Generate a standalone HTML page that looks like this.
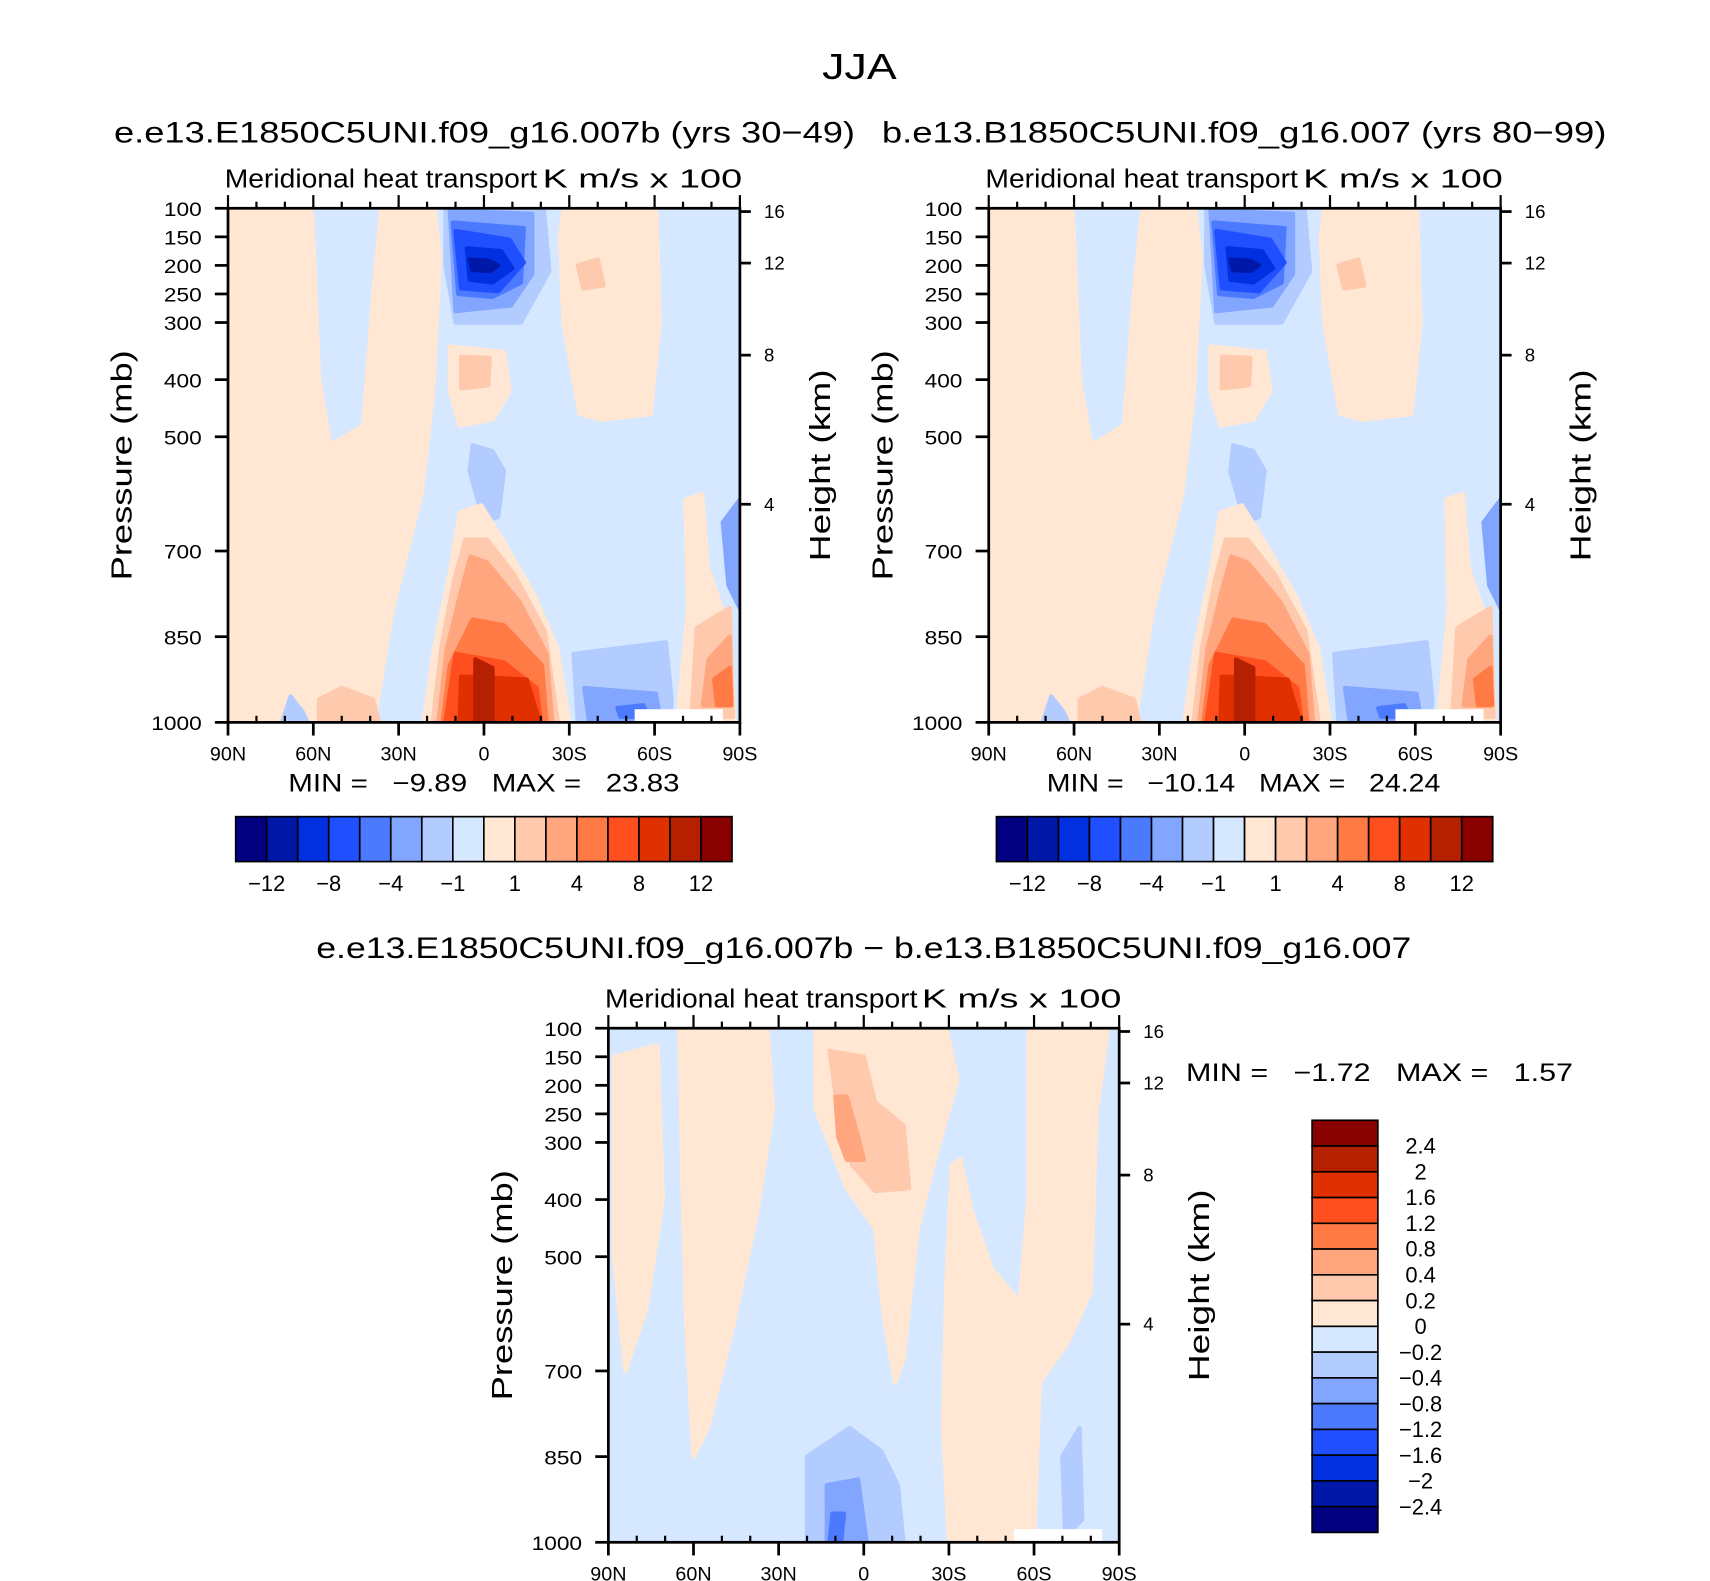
<!DOCTYPE html>
<html><head><meta charset="utf-8"><style>
html,body{margin:0;padding:0;background:#fff;}
svg{display:block;font-family:"Liberation Sans",sans-serif;}
text{white-space:pre;}
</style></head><body>
<svg id="fig" width="1710" height="1581" viewBox="0 0 1560 1442.3" xmlns="http://www.w3.org/2000/svg">
<text x="784" y="72" font-size="33" text-anchor="middle" textLength="68" lengthAdjust="spacingAndGlyphs">JJA</text>
<text x="442" y="130" font-size="27" text-anchor="middle" textLength="676" lengthAdjust="spacingAndGlyphs">e.e13.E1850C5UNI.f09_g16.007b (yrs 30−49)</text>
<text x="1135" y="130" font-size="27" text-anchor="middle" textLength="661" lengthAdjust="spacingAndGlyphs">b.e13.B1850C5UNI.f09_g16.007 (yrs 80−99)</text>
<text x="788" y="874" font-size="27" text-anchor="middle" textLength="999" lengthAdjust="spacingAndGlyphs">e.e13.E1850C5UNI.f09_g16.007b − b.e13.B1850C5UNI.f09_g16.007</text>
</svg>
<script>
// ---- data ----
const colors = ["#000080","#0018a8","#0030e0","#1f4fff","#4c7aff","#82a6ff","#b3ccff","#d6e8ff","#ffe7d4","#ffc9ad","#ffa67f","#ff7a45","#ff4f1f","#e03000","#b52000","#880000"];
const cbLabels1 = ["−12","−8","−4","−1","1","4","8","12"];
const cbLabelIdx1 = [1,3,5,7,9,11,13,15];
const cbLabels3 = ["2.4","2","1.6","1.2","0.8","0.4","0.2","0","−0.2","−0.4","−0.8","−1.2","−1.6","−2","−2.4"];
const pLevels = [100,150,200,250,300,400,500,700,850,1000];
const pLevelLabels = ["100","150","200","250","300","400","500","700","850","1000"];
const pLevelIdx = [0,1,2,3,4,6,8,12,15,18];
const latTicks = [90,60,30,0,-30,-60,-90];
const latLabels = ["90N","60N","30N","0","30S","60S","90S"];
const hTicks = [16,12,8,4];
const hPos = [193,240,324,460];
const minMax1 = ["−9.89","23.83"];
const minMax2 = ["−10.14","24.24"];
const minMax3 = ["−1.72","1.57"];
// field shapes: [colorIndex, [[lat,level] ...]]
const field12 = [
 [8,[[90,100],[60.6,100],[59.8,185],[58,400],[54,515],[42.4,480],[38.6,230],[36,100],[17.5,100],[15.5,185],[18,430],[22,600],[32.5,810],[38.5,1000],[90,1000]]],
 [9,[[58,960],[50,940],[39,960],[37,1000],[58,1000]]],
 [6,[[71,1000],[68,955],[64,980],[62,1000]]],
 [6,[[13.5,100],[-21,100],[-23,210],[-13,300],[10,300],[13.5,200]]],
 [5,[[12,104],[-17,110],[-17,215],[-9.5,270],[10,280]]],
 [4,[[11,125],[-14,135],[-13,230],[-3,255],[9,250]]],
 [3,[[10,140],[-9,155],[-14,195],[-5,245],[8,240]]],
 [2,[[6,170],[-6,175],[-10,205],[-3,230],[5,225]]],
 [1,[[5,190],[-2,192],[-5,200],[-2,210],[4,208]]],
 [8,[[12,342],[-7,352],[-9,420],[-3,470],[8.5,480],[12,420]]],
 [9,[[8,360],[-2,362],[-1.5,410],[8,415]]],
 [6,[[4,515],[-3,525],[-7,560],[-5,640],[0,650],[5,560]]],
 [8,[[-28,100],[-60.6,100],[-61.8,300],[-58.6,460],[-41.3,470],[-33.6,460],[-28,300],[-26.8,150]]],
 [9,[[-33,200],[-40,190],[-42,235],[-35,240]]],
 [8,[[8.5,633],[1,620],[-6.5,680],[-18,780],[-25.7,870],[-30,1000],[21.2,1000],[17.5,870],[11.7,730]]],
 [9,[[6.6,680],[-1,680],[-10.5,740],[-21.3,840],[-26,1000],[18,1000],[15,870],[10.4,750]]],
 [10,[[4.7,710],[-1,720],[-12.6,790],[-22,880],[-24,1000],[16,1000],[13,870],[8,770]]],
 [11,[[4,820],[-7,830],[-20.4,900],[-22,1000],[14.5,1000],[12,900]]],
 [12,[[10,880],[-7,895],[-18.5,940],[-20,1000],[13.5,1000]]],
 [13,[[8,920],[-15,925],[-19.6,1000],[8.5,1000]]],
 [14,[[3,890],[-3,905],[-3,1000],[3,1000]]],
 [6,[[-31.5,880],[-64,860],[-66,960],[-65.6,1000],[-33,1000]]],
 [5,[[-35.3,940],[-60.4,950],[-62.3,1000],[-37,1000]]],
 [4,[[-47,975],[-56,970],[-58,990],[-48,990]]],
 [8,[[-70.9,610],[-76.7,600],[-78.7,730],[-86.4,840],[-88,1000],[-68,1000],[-71.8,800]]],
 [9,[[-74.8,835],[-86.4,800],[-87.5,990],[-73,990]]],
 [10,[[-79,890],[-86.4,850],[-87,970],[-77,970]]],
 [11,[[-81,925],[-86.4,905],[-87,970],[-82,970]]],
 [5,[[-84,650],[-90,610],[-90,800],[-86,760]]]
];
const field3 = [
 [8,[[88,150],[72.7,130],[70.8,400],[76.6,590],[84,700],[88,500]]],
 [8,[[64.9,100],[34,100],[32,240],[37.5,420],[46,620],[55,800],[60,850],[62.5,620],[64,350]]],
 [8,[[17,100],[-29,100],[-33,190],[-25,330],[-19,450],[-14,680],[-11,720],[-7,600],[-4,450],[6,380],[17,240]]],
 [8,[[-58,100],[-86,100],[-82,250],[-80,560],[-72,650],[-62,720],[-60,1000],[-30,1000],[-28,800],[-29,560],[-31,340],[-34,330],[-38,420],[-45,520],[-55,580],[-58,400]]],
 [7,[[-48,100],[-57,100],[-55,130],[-50,130]]],
 [6,[[-70,850],[-76,800],[-77,960],[-71,990]]],
 [9,[[12,140],[0,150],[-4,230],[-14,270],[-16,380],[-4,385],[4,340],[9,250]]],
 [10,[[10,220],[6,220],[2,290],[0,330],[6,330],[9,290]]],
 [6,[[20,850],[5,800],[-6,840],[-12,900],[-14,1000],[20,1000]]],
 [5,[[13,900],[2,890],[-1,1000],[13,1000]]],
 [4,[[11,950],[7,950],[8,1000],[12,1000]]]
];

// ---- drawing ----
const svg = document.getElementById('fig');
const NS = 'http://www.w3.org/2000/svg';
function mk(tag, attrs, parent){ const e=document.createElementNS(NS,tag); for(const k in attrs) e.setAttribute(k,attrs[k]); (parent||svg).appendChild(e); return e; }

function makePanel(px, py, w, h, fld, id){
  const xs = lat => px + (90-lat)/180*w;
  const idxOf = p => { for(let i=0;i<pLevels.length-1;i++){ if(p<=pLevels[i+1]){ const f=(p-pLevels[i])/(pLevels[i+1]-pLevels[i]); return pLevelIdx[i]+f*(pLevelIdx[i+1]-pLevelIdx[i]); } } return 18; };
  const ys = p => py + idxOf(p)/18*h;
  const g = mk('g',{});
  
  
  const clip = mk('clipPath',{id:id+'clip'},g); mk('rect',{x:px,y:py,width:w,height:h},clip);
  const fg = mk('g',{'clip-path':'url(#'+id+'clip)'},g);
  const bg = mk('rect',{x:px,y:py,width:w,height:h,fill:colors[7]},fg);
  
  
  fld.forEach((s)=>{
    const pts = s[1].map(q=>xs(q[0]).toFixed(1)+','+ys(q[1]).toFixed(1)).join(' ');
    const poly = mk('polygon',{points:pts,fill:colors[s[0]],'stroke':colors[s[0]],'stroke-linejoin':'round','stroke-width':4},fg);
    
    
  });
  mk('rect',{x:xs(-53),y:py+h-12,width:xs(-84)-xs(-53),height:12,fill:'#fff'},fg);
  mk('rect',{x:px,y:py,width:w,height:h,fill:'none',stroke:'#000','stroke-width':2.5},g);
  pLevels.forEach((p,i)=>{ const y=ys(p); mk('line',{x1:px-12,x2:px,y1:y,y2:y,stroke:'#000','stroke-width':2.5},g);
    const t=mk('text',{x:px-24,y:y+7,'font-size':18,'text-anchor':'end',textLength:pLevelLabels[i].length*11.5,lengthAdjust:'spacingAndGlyphs'},g); t.textContent=pLevelLabels[i];
    
     });
  hTicks.forEach((hh,i)=>{ const y=py+(hPos[i]-190)/469*h; mk('line',{x1:px+w,x2:px+w+10,y1:y,y2:y,stroke:'#000','stroke-width':2.5},g);
    const t=mk('text',{x:px+w+22,y:y+6,'font-size':17},g); t.textContent=hh;
    
     });
  for(let L=90;L>=-90;L-=10){ const x=xs(L); const major = L%30===0;
    mk('line',{x1:x,x2:x,y1:py+h,y2:py+h+(major?12:0),stroke:'#000','stroke-width':2.5},g);
    mk('line',{x1:x,x2:x,y1:py,y2:py-(major?12:6),stroke:'#000','stroke-width':2},g);
    mk('line',{x1:x,x2:x,y1:py+h,y2:py+h-(major?0:6),stroke:'#000','stroke-width':2},g); }
  latTicks.forEach((L,i)=>{ const t=mk('text',{x:xs(L),y:py+h+35,'font-size':18,'text-anchor':'middle'},g); t.textContent=latLabels[i];
    
     });
  const st=mk('text',{x:px-3,y:py-19,'font-size':24,textLength:285,lengthAdjust:'spacingAndGlyphs'},g); st.textContent='Meridional heat transport';
  
  
  const un=mk('text',{x:px+w-180,y:py-19,'font-size':24,textLength:182,lengthAdjust:'spacingAndGlyphs'},g); un.textContent='K m/s x 100';
  
  
  const ya=mk('text',{x:0,y:0,'font-size':26,'text-anchor':'middle',textLength:210,lengthAdjust:'spacingAndGlyphs',transform:`translate(${px-88},${py+h/2}) rotate(-90)`},g); ya.textContent='Pressure (mb)';
  
  
  const ya2=mk('text',{x:0,y:0,'font-size':26,'text-anchor':'middle',textLength:175,lengthAdjust:'spacingAndGlyphs',transform:`translate(${px+w+82},${py+h/2}) rotate(-90)`},g); ya2.textContent='Height (km)';
  
  
}

function minmax(x,y,mm,id,len){
  const t=mk('text',{x:x,y:y,'font-size':23,textLength:len,lengthAdjust:'spacingAndGlyphs'}); t.textContent='MIN =   '+mm[0]+'   MAX =   '+mm[1];
  
  
}

function hbar(x0,y0,id){
  const bw=28.3, bh=41;
  colors.forEach((c,i)=>{ const r=mk('rect',{x:x0+i*bw,y:y0,width:bw,height:bh,fill:c,stroke:'#000','stroke-width':1.5});
    
     });
  cbLabels1.forEach((l,i)=>{ const t=mk('text',{x:x0+cbLabelIdx1[i]*bw,y:y0+68,'font-size':20,'text-anchor':'middle'}); t.textContent=l;
    
     });
}

makePanel(208,190,467,469,field12,'panel1');
makePanel(902,190,467,469,field12,'panel2');
makePanel(555,938,466,469,field3,'panel3');
minmax(263,722,minMax1,'panel1',357);
minmax(955,722,minMax2,'panel2',359);
minmax(1082,986,minMax3,'panel3',353);
hbar(215,745,'panel1');
hbar(909,745,'panel2');
const vbx=1197, vby=1022, vbw=60, vbh=23.5;
colors.slice().reverse().forEach((c,i)=>{ const r=mk('rect',{x:vbx,y:vby+i*vbh,width:vbw,height:vbh,fill:c,stroke:'#000','stroke-width':1.5});
  
   });
cbLabels3.forEach((l,i)=>{ const t=mk('text',{x:1296,y:vby+(i+1)*vbh+7,'font-size':20,'text-anchor':'middle'}); t.textContent=l;
  
   });
</script>
</body></html>
